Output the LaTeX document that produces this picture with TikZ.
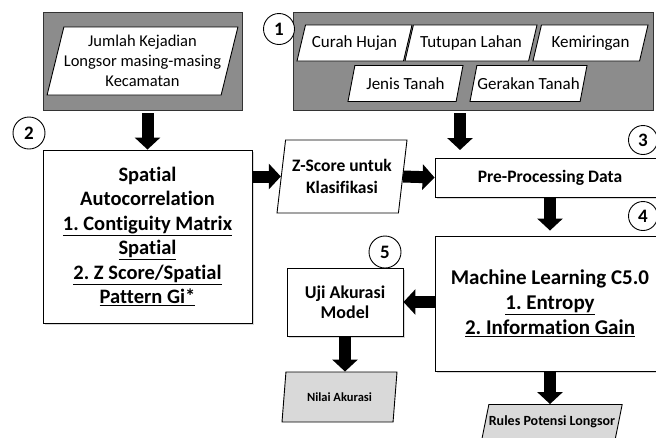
\documentclass[tikz,border=0pt]{standalone}
\usepackage{fontspec}
\setmainfont{Carlito}[Ligatures=NoCommon]
\frenchspacing
\usetikzlibrary{shapes.geometric,arrows.meta,shadows}

\definecolor{panelgray}{RGB}{140,140,140}
\definecolor{outgray}{RGB}{217,217,217}

\tikzset{
  panel/.style={rectangle, draw=black!80, fill=panelgray, line width=0.9pt, inner sep=0pt},
  databox/.style={trapezium, trapezium left angle=60, trapezium right angle=120,
    trapezium stretches body, draw, fill=white, line width=0.9pt, inner sep=0pt, align=center},
  outbox/.style={databox, fill=outgray, font=\bfseries\fontsize{12.5}{14}\selectfont},
  procbox/.style={rectangle, draw, fill=white, line width=0.9pt, inner sep=0pt, align=center,
    drop shadow={shadow xshift=1.5pt, shadow yshift=-1.5pt, fill=black!30, opacity=0.5}},
  stepnum/.style={circle, draw, fill=white, line width=0.9pt, minimum size=31pt, inner sep=0pt,
    font=\bfseries\fontsize{19}{19}\selectfont},
  bigarrow/.style={line width=12pt, -{Triangle[width=25pt,length=12pt]}},
}

\begin{document}
\begin{tikzpicture}[x=1pt,y=-1pt]
   \clip (0,0) rectangle (656,437);

   % data masukan
   \node[panel, minimum width=199pt, minimum height=98pt] (kejadianpanel) at (142.5,61) {};
   \node[databox, minimum width=173pt, minimum height=68pt, trapezium left angle=72,
     trapezium right angle=108, font=\fontsize{16.5}{20}\selectfont]
     (kejadian) at (142.5,61) {Jumlah Kejadian\\Longsor masing-masing\\Kecamatan};

   \node[panel, minimum width=360pt, minimum height=98pt] (faktorpanel) at (473,61) {};
   \begin{scope}[every node/.append style={databox, minimum height=36pt, font=\fontsize{17}{18}\selectfont}]
     \node[minimum width=115pt] (hujan) at (354.5,43) {Curah Hujan};
     \node[minimum width=132pt] (lahan) at (471,43) {Tutupan Lahan};
     \node[minimum width=115pt] (lereng) at (590.5,43) {Kemiringan};
     \node[minimum width=115pt] (tanah) at (405.5,83.5) {Jenis Tanah};
     \node[minimum width=117pt] (gerakan) at (528.5,83.5) {Gerakan Tanah};
   \end{scope}

   % proses
   \node[procbox, minimum width=209pt, minimum height=173pt, font=\bfseries\fontsize{20.5}{24.5}\selectfont]
     (spatial) at (147.5,236.5) {Spatial\\Autocorrelation\\\underline{1. Contiguity Matrix}\\
     \underline{Spatial}\\\underline{2. Z Score/Spatial}\\\underline{Pattern Gi*}};
   \node[databox, minimum width=130pt, minimum height=73pt, trapezium left angle=76,
     trapezium right angle=104, font=\bfseries\fontsize{17.5}{22}\selectfont]
     (zscore) at (342,176.5) {Z-Score untuk\\Klasifikasi};
   \node[procbox, minimum width=230pt, minimum height=39pt, font=\bfseries\fontsize{17.5}{18}\selectfont]
     (preproc) at (550,177.5) {Pre-Processing Data};
   \node[procbox, minimum width=230pt, minimum height=135pt, font=\bfseries\fontsize{21}{25}\selectfont]
     (mlearn) at (550,303.5) {Machine Learning C5.0\\\underline{1. Entropy}\\\underline{2. Information Gain}};
   \node[procbox, minimum width=116pt, minimum height=68pt, font=\bfseries\fontsize{18}{19.5}\selectfont]
     (uji) at (345,302) {Uji Akurasi\\Model};

   % keluaran
   \node[outbox, minimum width=115pt, minimum height=50pt, trapezium left angle=66,
     trapezium right angle=114] (nilai) at (339.5,397) {Nilai Akurasi};
   \node[outbox, minimum width=140pt, minimum height=35pt, font=\bfseries\fontsize{14}{15}\selectfont]
     (rules) at (552,422) {Rules Potensi Longsor};

   % nomor tahap
   \node[stepnum] (tahap1) at (279,29) {1};
   \node[stepnum, minimum size=32pt] (tahap2) at (29,133) {2};
   \node[stepnum, minimum size=29pt] (tahap3) at (643,140) {3};
   \node[stepnum, minimum size=29pt] (tahap4) at (643,216) {4};
   \node[stepnum, minimum size=32pt] (tahap5) at (385,252) {5};

   % panah
   \coordinate (masuk) at (460,150);
   \draw[bigarrow] ([yshift=-3pt]kejadianpanel.south -| spatial.north) -- (spatial.north);
   \draw[bigarrow] ([yshift=-3pt]faktorpanel.south -| masuk) -- (masuk);
   \draw[bigarrow] (spatial.east |- zscore.west) -- (zscore.west);
   \draw[bigarrow] (zscore.east) -- (preproc.west);
   \draw[bigarrow] (preproc.south) -- ([yshift=5pt]mlearn.north);
   \draw[bigarrow] (mlearn.west |- uji.east) -- (uji.east);
   \draw[bigarrow] (uji.south) -- (uji.south |- nilai.north);
   \draw[bigarrow] (mlearn.south) -- (mlearn.south |- rules.north);
\end{tikzpicture}
\end{document}
